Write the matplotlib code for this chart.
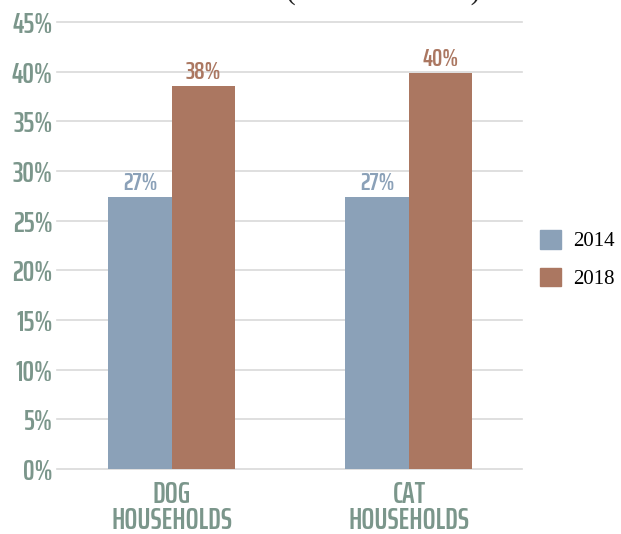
import numpy as np
import matplotlib.pyplot as plt
from matplotlib.patches import Patch

categories = ["DOG\nHOUSEHOLDS", "CAT\nHOUSEHOLDS"]
years = ["2014", "2018"]
vals_2014 = [27.4, 27.4]
vals_2018 = [38.6, 39.9]
labels_2014 = ["27%", "27%"]
labels_2018 = ["38%", "40%"]
yticks = [0, 5, 10, 15, 20, 25, 30, 35, 40, 45]

blue = "#8ba1b8"
brown = "#ab7761"
green = "#7b968b"
cond = ["Saira ExtraCondensed", "DejaVu Sans"]

fig = plt.figure(figsize=(6.21, 5.34), dpi=100)
ax = fig.add_axes([57 / 621, 65 / 534, 465 / 621, 447 / 534])

x = np.arange(len(categories))
w = 0.268
b1 = ax.bar(x - w / 2, vals_2014, w, color=blue, zorder=3)
b2 = ax.bar(x + w / 2, vals_2018, w, color=brown, zorder=3)

# value labels above bars
for rect, lab in zip(b1, labels_2014):
    ax.text(rect.get_x() + rect.get_width() / 2, rect.get_height() + 0.15, lab,
            ha="center", va="bottom", color=blue, fontsize=18.5,
            family=cond, fontweight=600)
for rect, lab in zip(b2, labels_2018):
    ax.text(rect.get_x() + rect.get_width() / 2, rect.get_height() + 0.15, lab,
            ha="center", va="bottom", color=brown, fontsize=18.5,
            family=cond, fontweight=600)

ax.set_xlim(-0.485, 1.477)
ax.set_ylim(0, 45)
ax.set_yticks(yticks)
ax.set_yticklabels([f"{t}%" for t in yticks], family=cond, fontsize=21,
                   fontweight=600, color=green)
ax.set_xticks(x)
ax.set_xticklabels(categories, family=cond, fontsize=22, fontweight=600,
                   color=green, linespacing=0.85)
ax.tick_params(axis="both", length=0)
ax.tick_params(axis="y", pad=3)
ax.tick_params(axis="x", pad=8)
for s in ax.spines.values():
    s.set_visible(False)
ax.yaxis.grid(True, color="#d9d9d9", linewidth=1.2, zorder=0)
ax.set_axisbelow(True)
for line in ax.get_ygridlines():
    line.set_clip_on(False)

handles = [Patch(color=blue), Patch(color=brown)]
fig.legend(handles, years, loc="upper left", bbox_to_anchor=(540 / 621, 1 - 230 / 534),
           frameon=False, prop={"family": "Liberation Serif", "size": 15},
           handlelength=1.0, handleheight=1.0, labelspacing=0.78, handletextpad=0.6,
           borderpad=0, borderaxespad=0)

# title, cut off by the top edge
fig.text(383 / 621, 1 + 1.5 / 534, "(2014 VS. 2018)", ha="center", va="baseline",
         family="Liberation Serif", fontsize=21, color="#222222")

fig.savefig("out.png", dpi=100)
